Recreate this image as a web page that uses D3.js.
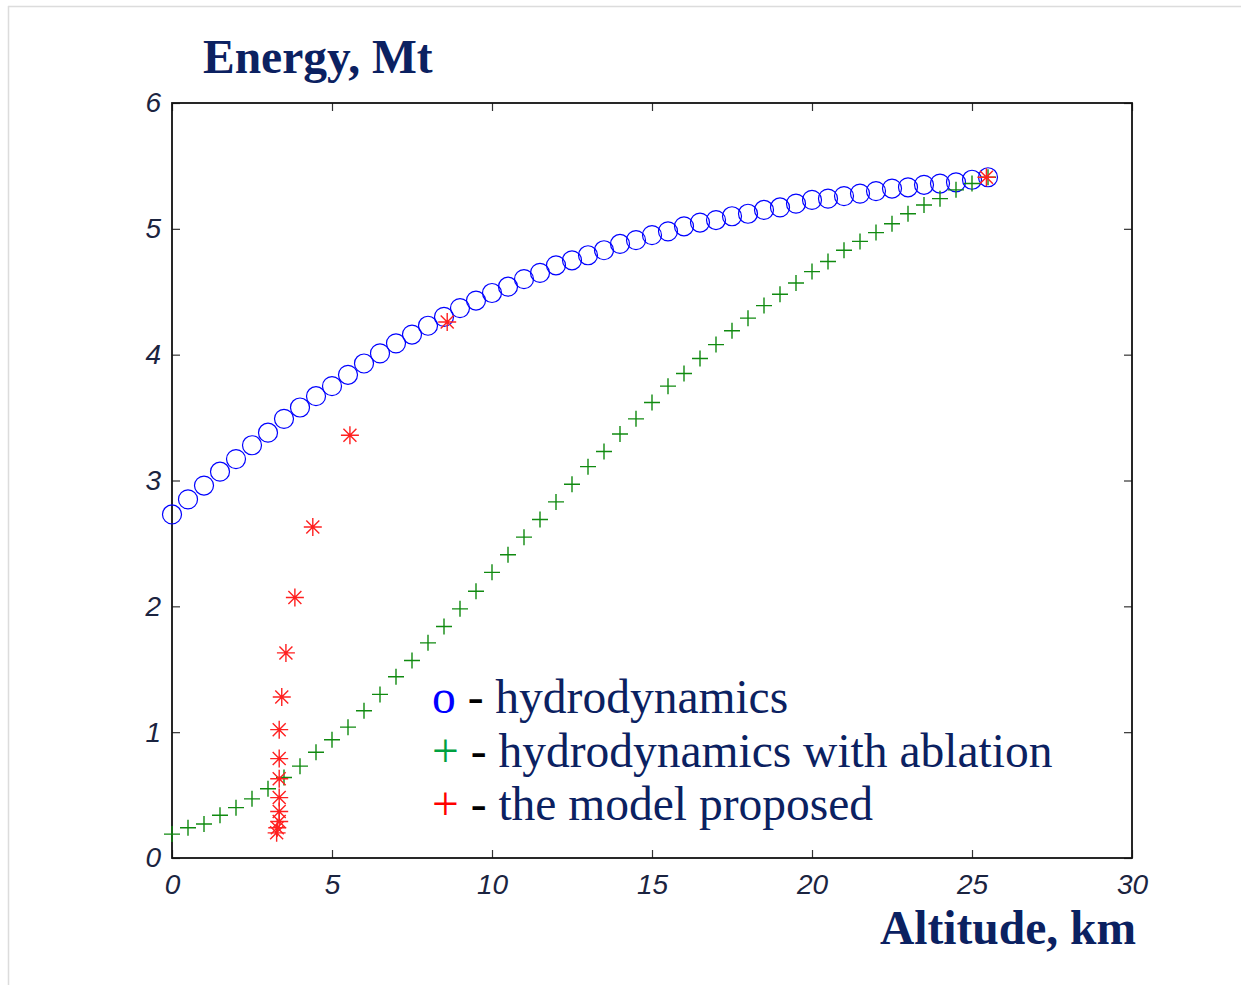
<!DOCTYPE html>
<html>
<head>
<meta charset="utf-8">
<script src="https://cdn.jsdelivr.net/npm/d3@7"></script>
<style>
  body { margin: 0; background: #fff; }
  svg { display: block; }
</style>
</head>
<body>
<svg id="chart"></svg>
<script>
// altitude grid, km (every 0.5 km)
let altitude = [0, 0.5, 1, 1.5, 2, 2.5, 3, 3.5, 4, 4.5, 5, 5.5, 6, 6.5, 7, 7.5, 8, 8.5, 9, 9.5,
  10, 10.5, 11, 11.5, 12, 12.5, 13, 13.5, 14, 14.5, 15, 15.5, 16, 16.5, 17, 17.5, 18, 18.5, 19, 19.5,
  20, 20.5, 21, 21.5, 22, 22.5, 23, 23.5, 24, 24.5, 25, 25.5];

// o - hydrodynamics
let hydroEnergy = [2.73, 2.85, 2.96, 3.07, 3.17, 3.28, 3.38, 3.49, 3.58, 3.67, 3.75, 3.84, 3.93, 4.01,
  4.09, 4.16, 4.23, 4.30, 4.37, 4.43, 4.49, 4.54, 4.60, 4.65, 4.71, 4.75, 4.79, 4.83, 4.88, 4.91,
  4.95, 4.98, 5.02, 5.05, 5.07, 5.10, 5.12, 5.15, 5.17, 5.20, 5.23, 5.24, 5.26, 5.28, 5.30, 5.32,
  5.33, 5.35, 5.36, 5.37, 5.39, 5.41];

// + - hydrodynamics with ablation
let ablationEnergy = [0.19, 0.24, 0.27, 0.34, 0.40, 0.47, 0.55, 0.64, 0.73, 0.84, 0.94, 1.04, 1.17, 1.30,
  1.44, 1.57, 1.71, 1.84, 1.98, 2.12, 2.27, 2.41, 2.55, 2.69, 2.83, 2.97, 3.11, 3.23, 3.37, 3.49,
  3.62, 3.75, 3.85, 3.97, 4.08, 4.19, 4.29, 4.39, 4.48, 4.57, 4.66, 4.74, 4.83, 4.90, 4.97, 5.04,
  5.12, 5.19, 5.24, 5.31, 5.36, 5.41];

// * - the model proposed
let modelAltitude = [3.27, 3.29, 3.35, 3.35, 3.35, 3.35, 3.35, 3.35, 3.43, 3.56, 3.84, 4.40, 5.56, 8.6, 25.45];
let modelEnergy = [0.20, 0.24, 0.29, 0.37, 0.48, 0.63, 0.79, 1.02, 1.28, 1.63, 2.07, 2.63, 3.36, 4.26, 5.41];

let xTicks = [0, 5, 10, 15, 20, 25, 30];
let yTicks = [0, 1, 2, 3, 4, 5, 6];

let width = 1241;
let height = 985;
let plotLeft = 172, plotRight = 1132, plotTop = 103, plotBottom = 858;
let navy = "#0b2161";

let svg = d3.select("#chart").attr("width", width).attr("height", height);

// faint page frame (top + left)
svg.append("line").attr("x1", 8).attr("x2", width).attr("y1", 6.5).attr("y2", 6.5)
  .attr("stroke", "#dcdcdc").attr("stroke-width", 1.5);
svg.append("line").attr("x1", 8.5).attr("x2", 8.5).attr("y1", 6).attr("y2", height)
  .attr("stroke", "#dcdcdc").attr("stroke-width", 1.5);

let xScale = d3.scaleLinear().domain([0, 30]).range([plotLeft, plotRight]);
let yScale = d3.scaleLinear().domain([0, 6]).range([plotBottom, plotTop]);

// axes, MATLAB style: ticks inward on all four sides
let tickFont = "italic 28px 'Liberation Sans', Arial, sans-serif";

let xAxis = d3.axisBottom(xScale).tickValues(xTicks).tickFormat(d3.format("d"))
  .tickSizeInner(-8).tickSizeOuter(0).tickPadding(16);
let yAxis = d3.axisLeft(yScale).tickValues(yTicks).tickFormat(d3.format("d"))
  .tickSizeInner(-8).tickSizeOuter(0).tickPadding(11);
let xTop = d3.axisTop(xScale).tickValues(xTicks).tickSizeInner(-8).tickSizeOuter(0).tickFormat("");
let yRight = d3.axisRight(yScale).tickValues(yTicks).tickSizeInner(-8).tickSizeOuter(0).tickFormat("");

function styleAxis(g) {
  g.select(".domain").remove();
  g.selectAll(".tick line").attr("stroke", "#333").attr("stroke-width", 1.2);
  g.selectAll(".tick text").style("font", tickFont).attr("fill", "#1b2440");
}

svg.append("g").attr("transform", "translate(0," + plotBottom + ")").call(xAxis).call(styleAxis);
svg.append("g").attr("transform", "translate(" + plotLeft + ",0)").call(yAxis).call(styleAxis);
svg.append("g").attr("transform", "translate(0," + plotTop + ")").call(xTop).call(styleAxis);
svg.append("g").attr("transform", "translate(" + plotRight + ",0)").call(yRight).call(styleAxis);

svg.append("rect")
  .attr("x", plotLeft).attr("y", plotTop)
  .attr("width", plotRight - plotLeft).attr("height", plotBottom - plotTop)
  .attr("fill", "none").attr("stroke", "#111").attr("stroke-width", 1.8);

// hydrodynamics - blue circles
svg.append("g").selectAll("circle")
  .data(altitude)
  .join("circle")
  .attr("cx", (d) => xScale(d))
  .attr("cy", (d, i) => yScale(hydroEnergy[i]))
  .attr("r", 9.5)
  .attr("fill", "none")
  .attr("stroke", "#0000ff")
  .attr("stroke-width", 1.2);

// with ablation - green plus
let plusSize = 8;
svg.append("g").selectAll("path")
  .data(altitude)
  .join("path")
  .attr("transform", (d, i) => "translate(" + xScale(d) + "," + yScale(ablationEnergy[i]) + ")")
  .attr("d", "M" + -plusSize + ",0H" + plusSize + "M0," + -plusSize + "V" + plusSize)
  .attr("fill", "none")
  .attr("stroke", "#108a10")
  .attr("stroke-width", 1.4);

// model proposed - red asterisks
let s = 9, dd = 6.5;
svg.append("g").selectAll("path")
  .data(modelAltitude)
  .join("path")
  .attr("transform", (d, i) => "translate(" + xScale(d) + "," + yScale(modelEnergy[i]) + ")")
  .attr("d", "M" + -s + ",0H" + s + "M0," + -s + "V" + s +
    "M" + -dd + "," + -dd + "L" + dd + "," + dd + "M" + -dd + "," + dd + "L" + dd + "," + -dd)
  .attr("fill", "none")
  .attr("stroke", "#ff2020")
  .attr("stroke-width", 1.4);

// titles
let serif = "'Liberation Serif', 'Times New Roman', serif";
svg.append("text").attr("x", 203).attr("y", 73)
  .style("font-family", serif).style("font-weight", "bold").style("font-size", "47.5px")
  .attr("fill", navy).text("Energy, Mt");
svg.append("text").attr("x", 1136).attr("y", 944).attr("text-anchor", "end")
  .style("font-family", serif).style("font-weight", "bold").style("font-size", "47.5px")
  .attr("fill", navy).text("Altitude, km");

// legend
let legendRows = [
  { sym: "o", color: "#0000ff", label: "hydrodynamics", y: 713 },
  { sym: "+", color: "#00a040", label: "hydrodynamics with ablation", y: 767 },
  { sym: "+", color: "#ff0000", label: "the model proposed", y: 820 },
];
let legend = svg.append("g").style("font-family", serif).style("font-size", "47.5px");
legendRows.forEach((r) => {
  let t = legend.append("text").attr("x", 432).attr("y", r.y);
  t.append("tspan").attr("fill", r.color).text(r.sym);
  t.append("tspan").attr("fill", "#000").text(" - ");
  t.append("tspan").attr("fill", navy).text(r.label);
});
</script>
</body>
</html>
